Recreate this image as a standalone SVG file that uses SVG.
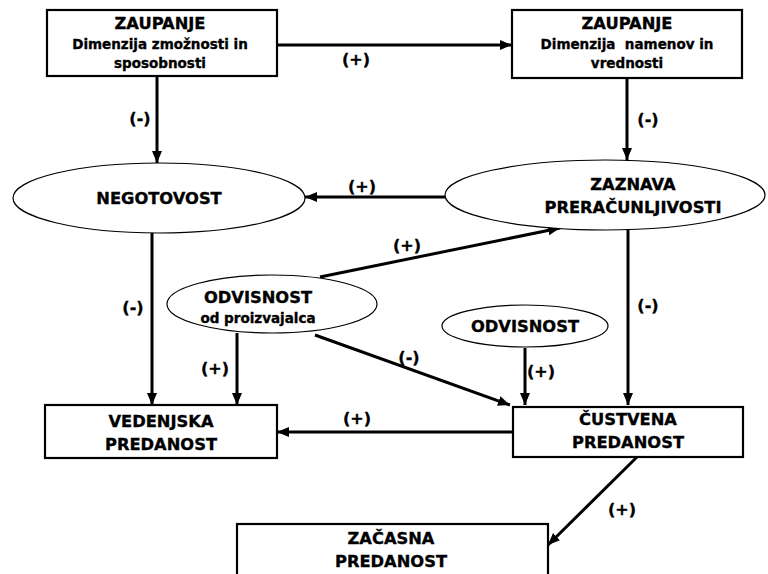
<svg xmlns="http://www.w3.org/2000/svg" width="768" height="574" viewBox="0 0 768 574">
  <style>
    text { font-family: "DejaVu Sans", Verdana, sans-serif; font-weight: bold; fill: #000; stroke: #000; stroke-width: 0.35; text-anchor: middle; }
    .t { font-size: 16.3px; }
    .s { font-size: 13.5px; }
    .lbl { font-size: 16px; }
    .box { fill: #fff; stroke: #000; stroke-width: 2.2; }
    .ell { fill: #fff; stroke: #000; stroke-width: 1.2; }
    .edge { fill: none; stroke: #000; stroke-width: 3; marker-end: url(#arrow); }
  </style>
  <defs>
    <marker id="arrow" markerUnits="userSpaceOnUse" markerWidth="14" markerHeight="12" refX="12" refY="5" orient="auto">
      <path d="M0,0 L12,5 L0,10 Z" fill="#000"/>
    </marker>
  </defs>
  <rect width="768" height="574" fill="#fff"/>

  <!-- connectors -->
  <g id="connectors">
    <line class="edge" x1="277" y1="45" x2="512" y2="45"/>
    <line class="edge" x1="157" y1="76" x2="157" y2="163"/>
    <line class="edge" x1="627" y1="78" x2="627" y2="160"/>
    <line class="edge" x1="445" y1="197" x2="305" y2="197"/>
    <line class="edge" x1="320" y1="277" x2="560" y2="228"/>
    <line class="edge" x1="152" y1="233" x2="152" y2="405"/>
    <line class="edge" x1="628" y1="230" x2="628" y2="405"/>
    <line class="edge" x1="237" y1="333" x2="237" y2="405"/>
    <line class="edge" x1="315" y1="335" x2="510" y2="405"/>
    <line class="edge" x1="525" y1="348" x2="525" y2="405"/>
    <line class="edge" x1="513" y1="432" x2="277" y2="432"/>
    <line class="edge" x1="637" y1="457" x2="548" y2="545"/>
  </g>

  <!-- edge labels -->
  <g id="labels">
    <text class="lbl" x="356" y="65">(+)</text>
    <text class="lbl" x="140" y="124">(-)</text>
    <text class="lbl" x="648" y="125">(-)</text>
    <text class="lbl" x="362" y="192">(+)</text>
    <text class="lbl" x="407" y="251">(+)</text>
    <text class="lbl" x="133" y="313">(-)</text>
    <text class="lbl" x="648" y="311">(-)</text>
    <text class="lbl" x="215" y="374">(+)</text>
    <text class="lbl" x="409" y="363">(-)</text>
    <text class="lbl" x="541" y="377">(+)</text>
    <text class="lbl" x="357" y="424">(+)</text>
    <text class="lbl" x="622" y="515">(+)</text>
  </g>

  <!-- nodes -->
  <g id="zaupanje-zmoznosti">
    <rect class="box" x="47" y="10" width="230" height="66"/>
    <text class="t" x="160" y="29">ZAUPANJE</text>
    <text class="s" x="160" y="49">Dimenzija zmožnosti in</text>
    <text class="s" x="160" y="68">sposobnosti</text>
  </g>

  <g id="zaupanje-namenov">
    <rect class="box" x="512" y="10" width="230" height="68"/>
    <text class="t" x="627" y="29">ZAUPANJE</text>
    <text class="s" x="627" y="49" xml:space="preserve">Dimenzija  namenov in</text>
    <text class="s" x="627" y="68">vrednosti</text>
  </g>

  <g id="negotovost">
    <ellipse class="ell" cx="159" cy="198" rx="146" ry="35"/>
    <text class="t" x="159" y="204">NEGOTOVOST</text>
  </g>

  <g id="zaznava">
    <ellipse class="ell" cx="605" cy="195" rx="160" ry="35"/>
    <text class="t" x="633" y="190">ZAZNAVA</text>
    <text class="t" x="633" y="213">PRERAČUNLJIVOSTI</text>
  </g>

  <g id="odvisnost-proizvajalca">
    <ellipse class="ell" cx="272" cy="304" rx="105" ry="29"/>
    <text class="t" x="258" y="303">ODVISNOST</text>
    <text class="s" x="258" y="323">od proizvajalca</text>
  </g>

  <g id="odvisnost">
    <ellipse class="ell" cx="525" cy="326" rx="83" ry="21"/>
    <text class="t" x="525" y="332">ODVISNOST</text>
  </g>

  <g id="vedenjska">
    <rect class="box" x="45" y="405" width="232" height="53"/>
    <text class="t" x="161" y="427">VEDENJSKA</text>
    <text class="t" x="161" y="450">PREDANOST</text>
  </g>

  <g id="custvena">
    <rect class="box" x="513" y="407" width="230" height="50"/>
    <text class="t" x="628" y="425">ČUSTVENA</text>
    <text class="t" x="628" y="448">PREDANOST</text>
  </g>

  <g id="zacasna">
    <rect class="box" x="237" y="524" width="311" height="70"/>
    <text class="t" x="391" y="544">ZAČASNA</text>
    <text class="t" x="391" y="567">PREDANOST</text>
  </g>
</svg>
